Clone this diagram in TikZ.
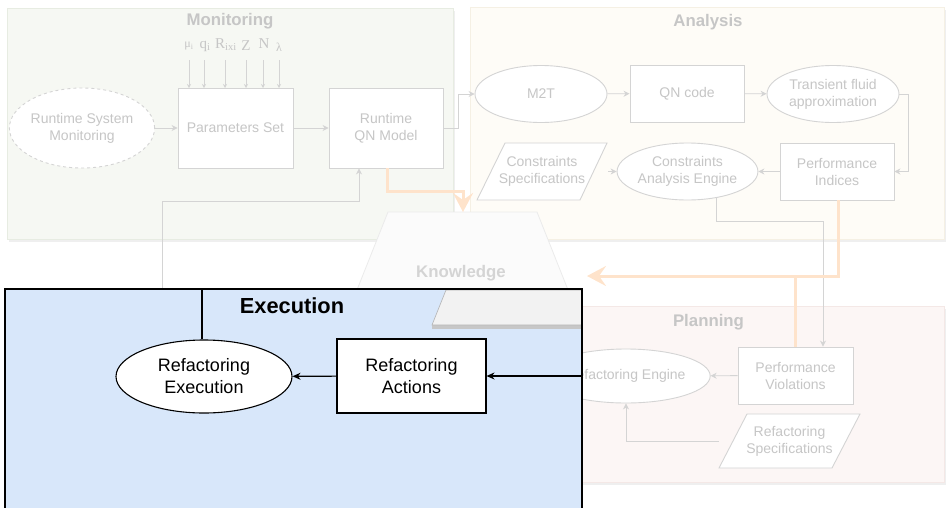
\documentclass[tikz,border=0pt]{standalone}
\usepackage{fontspec}
\setmainfont{Liberation Sans}
\newfontfamily\serifsym{Liberation Serif}
\usetikzlibrary{shapes.geometric,arrows.meta,calc}
\definecolor{fline}{HTML}{D4D4D4}
\definecolor{ftext}{HTML}{C6C6C6}
\definecolor{monfill}{HTML}{F6F8F3}
\definecolor{monedge}{HTML}{E7ECE2}
\definecolor{anafill}{HTML}{FEFCF7}
\definecolor{anaedge}{HTML}{F5F0E4}
\definecolor{plafill}{HTML}{FCF6F5}
\definecolor{plaedge}{HTML}{F4E8E6}
\definecolor{orangel}{HTML}{FEE3CB}
\definecolor{execfill}{HTML}{D8E7FA}
\definecolor{knfill}{HTML}{FBFBFB}
\definecolor{shadowc}{HTML}{EFEFEF}
\begin{document}
\begin{tikzpicture}[x=1pt,y=-1pt,
  fnode/.style={draw=fline, fill=white, text=ftext, font=\fontsize{14}{17}\selectfont, align=center, inner sep=0pt, line width=0.9pt},
  frect/.style={fnode, rectangle},
  fell/.style={fnode, ellipse},
  fbb/.style={inner sep=0pt, text=ftext, font=\fontsize{14}{17}\selectfont, align=center},
  farrow/.style={draw=fline, line width=0.9pt, -{Stealth[length=6pt,width=6pt]}},
  parrow/.style={draw=fline, line width=0.9pt, -{Stealth[length=4pt,width=4pt]}},
  ftitle/.style={text=ftext, font=\bfseries\fontsize{16.8}{20}\selectfont},
  symb/.style={text=ftext, font=\serifsym\fontsize{15}{17}\selectfont, inner sep=0pt},
  oline/.style={draw=orangel, line width=3pt},
  oarrow/.style={oline, -{Stealth[length=19pt,width=20pt,inset=7pt]}},
  bnode/.style={draw=black, fill=white, font=\fontsize{18}{22}\selectfont, align=center, inner sep=0pt, line width=1.1pt},
  barrow/.style={draw=black, line width=1.1pt, -{Stealth[length=8pt,width=7pt]}},
]
\path[use as bounding box] (0,0) rectangle (946,507);
\clip (0,0) rectangle (946,507);

% panels
\fill[shadowc] (9,11) rectangle (455,242);
\draw[draw=monedge, fill=monfill, line width=0.8pt] (7,8) rectangle (453,239);
\fill[shadowc] (472,10) rectangle (946,242);
\draw[draw=anaedge, fill=anafill, line width=0.8pt] (470,7) rectangle (944,239);
\fill[shadowc] (562,309) rectangle (946,485);
\draw[draw=plaedge, fill=plafill, line width=0.8pt] (560,306) rectangle (944,482);

\node[ftitle] (tmon) at (230,21) {Monitoring};
\node[ftitle] (tana) at (708,22) {Analysis};
\node[ftitle] (tpla) at (708.5,322) {Planning};

% Monitoring
\node[fell, dashed, minimum width=133pt, minimum height=80pt] (rsm) at (82,128) {Runtime System\\Monitoring};
\node[frect, minimum width=115pt, minimum height=80pt] (ps) at (235.5,128) {Parameters Set};
\node[frect, minimum width=114pt, minimum height=80pt] (qn) at (386,128) {Runtime\\QN Model};

\node[symb] (s1) at (189,46) {\fontsize{12}{14}\selectfont μ\textsubscript{i}};
\node[symb] (s2) at (205,46) {q\textsubscript{i}};
\node[symb] (s3) at (226,45) {R\textsubscript{ixi}};
\node[symb] (s4) at (246,46) {Z};
\node[symb] (s5) at (264,44) {N};
\node[symb] (s6) at (279,47) {\fontsize{12}{14}\selectfont λ};
\foreach \s/\xx in {s1/189,s2/204,s3/225,s4/246,s5/263,s6/279}{
  \draw[parrow] (\xx,60) -- (\xx,88);
}

\draw[farrow] (rsm) -- (ps);
\draw[farrow] (ps) -- (qn);

% Analysis
\node[fell, minimum width=132pt, minimum height=57pt] (m2t) at (541,94) {M2T};
\node[frect, minimum width=114pt, minimum height=57pt] (qnc) at (687,93.5) {QN code};
\node[fell, minimum width=132pt, minimum height=57pt] (tfa) at (833,94) {Transient fluid\\approximation};
\node[frect, minimum width=114pt, minimum height=57pt] (pi) at (837,171.5) {Performance\\Indices};
\node[fell, minimum width=133pt, minimum height=57pt] (cae) at (687.5,171.5) {Constraints\\Analysis Engine};
\draw[draw=fline, fill=white, line width=0.9pt] (505,143) -- (607,143) -- (580,200) -- (477,200) -- cycle;
\node[fbb, minimum width=130pt, minimum height=57pt] (cs) at (542,171.5) {Constraints\\Specifications};

\draw[farrow] (qn.east) -- ++(15,0) |- (m2t.west);
\draw[farrow] (m2t) -- (qnc);
\draw[farrow] (qnc) -- (tfa);
\draw[farrow] (tfa.east) -- ++(9,0) |- (pi.east);
\draw[farrow] (pi) -- (cae);
\draw[farrow] ([xshift=1pt]cs.east) -- (cae.west);

% Planning
\node[fell, minimum width=134pt, minimum height=54pt] (re) at (626,376) {Refactoring Engine};
\node[frect, minimum width=115pt, minimum height=57pt] (pv) at (795.5,375.5) {Performance\\Violations};
\draw[draw=fline, fill=white, line width=0.9pt] (747,414) -- (860,414) -- (832,468) -- (719,468) -- cycle;
\node[fbb, minimum width=141pt, minimum height=54pt] (rs) at (789.5,441) {Refactoring\\Specifications};
\draw[farrow] (pv) -- (re);
\draw[farrow] (rs.west) -| (re.south);
\draw[farrow] (cae.-42) -- ++(0,24) -| ([xshift=27.5pt]pv.north);

% feedback into QN model
\coordinate (fbstart) at (162,289);
\draw[farrow] (fbstart) -- ++(0,-88) -| ([xshift=-27pt]qn.south);

% Knowledge
\draw[draw=black!8, fill=knfill, line width=0.8pt] (388,212) -- (537,212) -- (582,325) -- (343,325) -- cycle;
\node[ftitle, text=black!17] (kn) at (461,273) {Knowledge};
\coordinate (kntop) at (463,212);
\coordinate (knright) at (587,276);

% orange connectors
\draw[oarrow] ([xshift=1pt]qn.south) -- ++(0,23) -| (kntop);
\draw[oarrow] ([xshift=1pt]pi.south) |- (knright);
\draw[oline] (pv.north) -- (pv.north |- knright);

% Execution
\draw[draw=black, fill=execfill, line width=2pt] (5,289) rectangle (582,530);
\fill[black!22] (432,325) rectangle (582,329);
\draw[draw=black!30, fill=black!5, line width=0.6pt] (446,290) -- (582,290) -- (582,325) -- (432,325) -- cycle;
\draw[draw=black, line width=2pt] (5,289) rectangle (582,530);

\node[font=\bfseries\fontsize{21.8}{26}\selectfont] (exlabel) at (292,306) {Execution};
\node[bnode, ellipse, minimum width=176pt, minimum height=73pt] (rex) at (204,376.5) {Refactoring\\Execution};
\node[bnode, rectangle, minimum width=149pt, minimum height=74pt] (ra) at (411.5,376) {Refactoring\\Actions};
\coordinate (exin) at (582,376);
\coordinate (extop) at (202,289);
\draw[barrow] (exin) -- (ra.east);
\draw[barrow] (ra) -- (rex);
\draw[draw=black, line width=1.1pt] (rex.north -| extop) -- (extop);
\end{tikzpicture}
\end{document}
